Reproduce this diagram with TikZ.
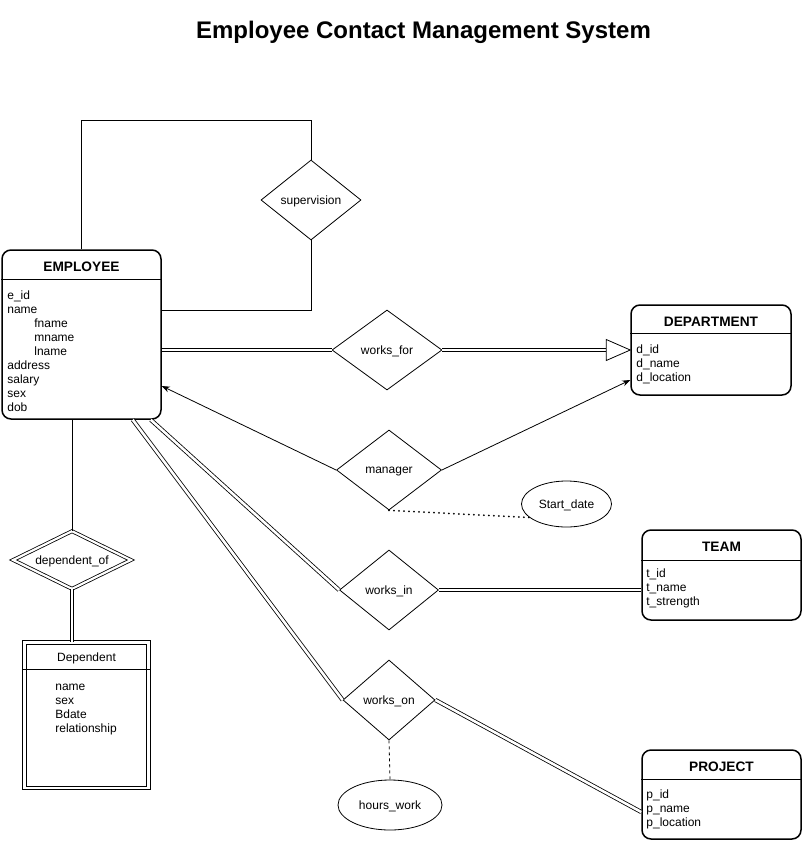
\documentclass[tikz,border=0pt]{standalone}
\usepackage{fontspec}
\setmainfont{Liberation Sans}
\usetikzlibrary{positioning,shapes.geometric,arrows.meta,calc}

\begin{document}
\begin{tikzpicture}[x=1pt,y=-1pt,line width=0.8pt,>={Stealth[length=8pt,width=6pt]},
    ent/.style={draw,line width=1.5pt,rounded corners=9pt,inner sep=0pt},
    rel/.style={draw,diamond,inner sep=0pt,text depth=0pt,font=\fontsize{12}{14}\selectfont},
    attr/.style={draw,ellipse,inner sep=0pt,text depth=0pt,font=\fontsize{12}{14}\selectfont},
    hdr/.style={font=\fontsize{13.7}{16}\selectfont\bfseries},
    fld/.style={anchor=base west,inner sep=0pt,font=\fontsize{12}{14}\selectfont},
    dbl/.style={double,double distance=2.6pt}]
    \useasboundingbox (0,0) rectangle (802,841);
    \node[font=\fontsize{24}{28}\selectfont\bfseries] (title) at (423.5,32) {Employee Contact Management System};

    % entities
    \node[ent,minimum width=159pt,minimum height=169pt] (emp) at (81.5,334.5) {};
    \node[ent,minimum width=160pt,minimum height=90pt] (dept) at (711,350) {};
    \node[ent,minimum width=159pt,minimum height=90pt] (team) at (721.5,575) {};
    \node[ent,minimum width=159pt,minimum height=89pt] (proj) at (721.5,794.5) {};
    \node[draw,double,double distance=2.6pt,inner sep=0pt,minimum width=124pt,minimum height=145.5pt] (depd) at (86.5,715.25) {};
    \draw[line width=1.5pt] ([yshift=-30pt]emp.north west) -- ([yshift=-30pt]emp.north east);
    \draw[line width=1.5pt] ([yshift=-29pt]dept.north west) -- ([yshift=-29pt]dept.north east);
    \draw[line width=1.5pt] ([yshift=-31pt]team.north west) -- ([yshift=-31pt]team.north east);
    \draw[line width=1.5pt] ([yshift=-30pt]proj.north west) -- ([yshift=-30pt]proj.north east);
    \draw ([xshift=-2pt,yshift=-27.5pt]depd.north west) -- ([xshift=2pt,yshift=-27.5pt]depd.north east);
    \node[hdr] (emp-h) at ([yshift=-17.5pt]emp.north) {EMPLOYEE};
    \node[hdr] (dept-h) at ([yshift=-17.5pt]dept.north) {DEPARTMENT};
    \node[hdr] (team-h) at ([yshift=-17.5pt]team.north) {TEAM};
    \node[hdr] (proj-h) at ([yshift=-17.5pt]proj.north) {PROJECT};
    \node[font=\fontsize{12}{14}\selectfont] (depd-h) at ([yshift=-16pt]depd.north) {Dependent};
    \foreach \dx/\txt [count=\i] in {7/e\_id,7/name,34/fname,34/mname,34/lname,7/address,7/salary,7/sex,7/dob}
        \node[fld] (emp-\i) at (\dx,{285+14*\i}) {\txt};
    \foreach \txt [count=\i] in {d\_id,d\_name,d\_location}
        \node[fld] (dept-\i) at (636,{339+14*\i}) {\txt};
    \foreach \txt [count=\i] in {t\_id,t\_name,t\_strength}
        \node[fld] (team-\i) at (646,{563+14*\i}) {\txt};
    \foreach \txt [count=\i] in {p\_id,p\_name,p\_location}
        \node[fld] (proj-\i) at (646,{784+14*\i}) {\txt};
    \foreach \txt [count=\i] in {name,sex,Bdate,relationship}
        \node[fld] (depd-\i) at (55,{676+14*\i}) {\txt};

    % relationships and attributes
    \node[rel,minimum width=100pt,minimum height=80pt] (sup) at (311,200) {supervision};
    \node[rel,minimum width=110pt,minimum height=80pt] (wf) at (387,350) {works\_for};
    \node[rel,minimum width=105pt,minimum height=80pt] (mgr) at (389,470) {manager};
    \node[rel,minimum width=99pt,minimum height=80pt] (wi) at (389,590) {works\_in};
    \node[rel,minimum width=92pt,minimum height=80pt] (wo) at (389,700) {works\_on};
    \node[rel,aspect=2,double,double distance=2.2pt,minimum width=118pt,minimum height=58pt] (dof) at (72,560) {dependent\_of};
    \node[attr,minimum width=90pt,minimum height=46pt] (sd) at (566.5,504) {Start\_date};
    \node[attr,minimum width=104pt,minimum height=50pt] (hw) at (390,805) {hours\_work};

    % connectors
    \draw (emp.north) -- ++(0,-129) -| (sup.north);
    \draw (sup.south) |- ([yshift=24.5pt]emp.east);
    \draw[dbl] (wf.west -| emp.east) -- (wf.west);
    \coordinate (wf-b) at ([xshift=-24pt]dept.west);
    \draw[dbl] (wf.east) -- (wf-b);
    \draw[fill=white] ([yshift=10.5pt]wf-b) -- (dept.west) -- ([yshift=-10.5pt]wf-b) -- cycle;
    \draw[->] (mgr.west) -- ([yshift=-51.5pt]emp.east);
    \draw[->] (mgr.east) -- ([yshift=-30pt]dept.west);
    \draw[line width=2pt,line cap=round,dash pattern=on 0pt off 5pt] (mgr.south) -- (sd.200);
    \draw[dbl] ([xshift=-11pt]emp.south east) -- (wi.west);
    \draw[dbl] (wi.east) -- (wi.east -| team.west);
    \draw[dbl] ([xshift=-29pt]emp.south east) -- (wo.west);
    \draw[dbl] (wo.east) -- ([yshift=-17.5pt]proj.west);
    \draw[dash pattern=on 3pt off 3pt] (wo.south) -- (hw.north);
    \draw (dof.north) -- (dof.north |- emp.south);
    \draw[dbl] (dof.south) -- (dof.south |- depd.north);
\end{tikzpicture}
\end{document}
